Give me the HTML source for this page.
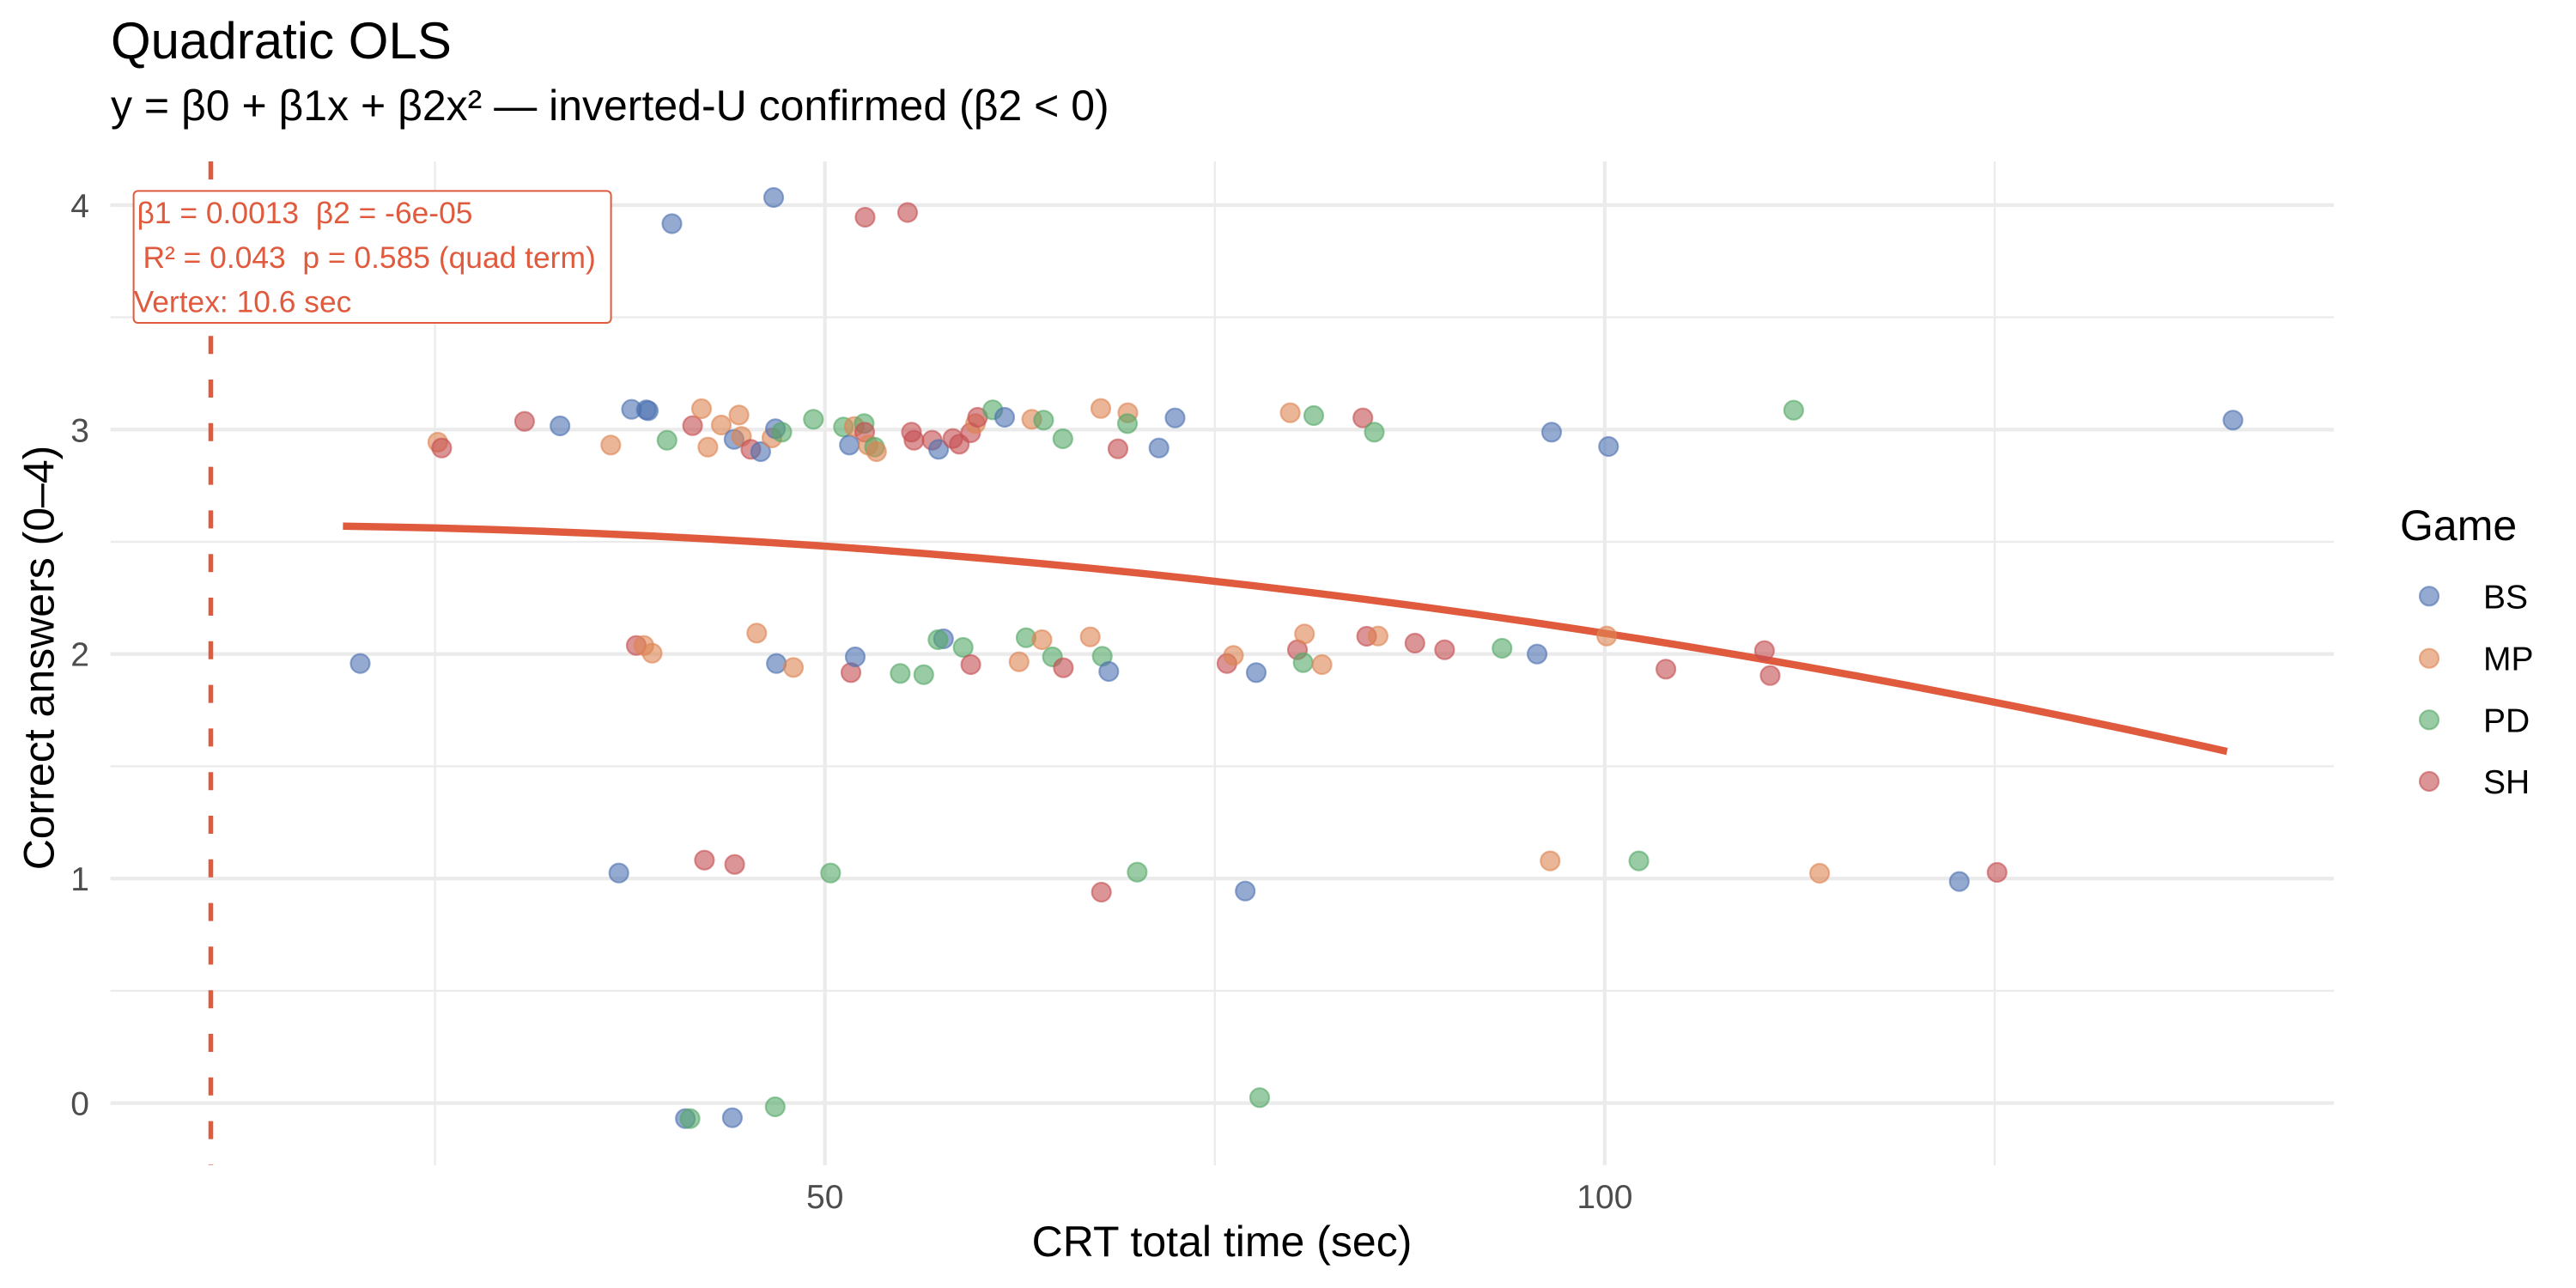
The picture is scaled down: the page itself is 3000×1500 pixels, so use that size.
<!DOCTYPE html>
<html>
<head>
<meta charset="utf-8">
<style>
  html, body { margin: 0; padding: 0; background: #ffffff; }
  svg { display: block; }
  text { font-family: "Liberation Sans", Arial, "DejaVu Sans", sans-serif; }
  .b { fill: #4C72B0; stroke: #4C72B0; }
  .m { fill: #DD8452; stroke: #DD8452; }
  .p { fill: #55A868; stroke: #55A868; }
  .s { fill: #C44E52; stroke: #C44E52; }
  .pt circle { fill-opacity: 0.6; stroke-opacity: 0.6; stroke-width: 2.2; }
  .tick { font-size: 39px; fill: #4D4D4D; }
  .ann { font-size: 35.4px; fill: #E05A3D; white-space: pre; }
</style>
</head>
<body>
<svg width="3000" height="1500" viewBox="0 0 3000 1500" xmlns="http://www.w3.org/2000/svg">
  <rect x="0" y="0" width="3000" height="1500" fill="#ffffff"/>

  <!-- minor gridlines -->
  <g stroke="#EBEBEB" stroke-width="2.3" fill="none">
    <line x1="128.6" y1="1153.9" x2="2718" y2="1153.9"/>
    <line x1="128.6" y1="892.4" x2="2718" y2="892.4"/>
    <line x1="128.6" y1="631" x2="2718" y2="631"/>
    <line x1="128.6" y1="369.5" x2="2718" y2="369.5"/>
    <line x1="506.6" y1="188" x2="506.6" y2="1357"/>
    <line x1="1414.8" y1="188" x2="1414.8" y2="1357"/>
    <line x1="2323" y1="188" x2="2323" y2="1357"/>
  </g>
  <!-- major gridlines -->
  <g stroke="#EBEBEB" stroke-width="4.3" fill="none">
    <line x1="128.6" y1="1284.6" x2="2718" y2="1284.6"/>
    <line x1="128.6" y1="1023.2" x2="2718" y2="1023.2"/>
    <line x1="128.6" y1="761.7" x2="2718" y2="761.7"/>
    <line x1="128.6" y1="500.3" x2="2718" y2="500.3"/>
    <line x1="128.6" y1="238.8" x2="2718" y2="238.8"/>
    <line x1="960.7" y1="188" x2="960.7" y2="1357"/>
    <line x1="1868.9" y1="188" x2="1868.9" y2="1357"/>
  </g>

  <!-- vertex dashed line -->
  <line x1="245.5" y1="188" x2="245.5" y2="1357" stroke="#E05A3D" stroke-width="5.5" stroke-dasharray="21 29.8"/>

  <!-- fitted quadratic curve -->
  <path d="M399.4,612.7 Q1496.5,628.9 2593.6,875.1" fill="none" stroke="#E05A3D" stroke-width="8.5"/>

  <!-- points -->
  <g class="pt">
    <!-- y=4 band -->
    <circle class="b" cx="782.5" cy="260.5" r="11"/>
    <circle class="b" cx="901" cy="230" r="11"/>
    <circle class="s" cx="1007.5" cy="253" r="11"/>
    <circle class="s" cx="1057" cy="247.5" r="11"/>

    <!-- y=3 band -->
    <circle class="m" cx="509.9" cy="515" r="11"/>
    <circle class="s" cx="514.4" cy="521.7" r="11"/>
    <circle class="s" cx="610.9" cy="490.7" r="11"/>
    <circle class="b" cx="652.2" cy="496" r="11"/>
    <circle class="m" cx="711.3" cy="518.3" r="11"/>
    <circle class="b" cx="735.5" cy="476.7" r="11"/>
    <circle class="b" cx="752.7" cy="477.3" r="11"/>
    <circle class="b" cx="755" cy="478.3" r="11"/>
    <circle class="p" cx="776.8" cy="512.7" r="11"/>
    <circle class="s" cx="806.6" cy="495.7" r="11"/>
    <circle class="m" cx="817" cy="476" r="11"/>
    <circle class="m" cx="824.4" cy="520.7" r="11"/>
    <circle class="m" cx="840" cy="495" r="11"/>
    <circle class="b" cx="854.9" cy="511.7" r="11"/>
    <circle class="m" cx="860.6" cy="483.3" r="11"/>
    <circle class="m" cx="863.5" cy="508.3" r="11"/>
    <circle class="s" cx="874.4" cy="523.3" r="11"/>
    <circle class="b" cx="885.9" cy="526" r="11"/>
    <circle class="m" cx="899" cy="510" r="11"/>
    <circle class="b" cx="903.1" cy="499.3" r="11"/>
    <circle class="p" cx="910.5" cy="503.3" r="11"/>
    <circle class="p" cx="947.3" cy="488.3" r="11"/>
    <circle class="p" cx="982.3" cy="497.3" r="11"/>
    <circle class="b" cx="989.2" cy="518.3" r="11"/>
    <circle class="m" cx="994.9" cy="496.7" r="11"/>
    <circle class="p" cx="1006.4" cy="493.3" r="11"/>
    <circle class="s" cx="1007" cy="503.3" r="11"/>
    <circle class="m" cx="1011" cy="518.3" r="11"/>
    <circle class="p" cx="1018.5" cy="520.7" r="11"/>
    <circle class="m" cx="1020.8" cy="526" r="11"/>
    <circle class="s" cx="1061.5" cy="503.3" r="11"/>
    <circle class="s" cx="1064.4" cy="512.7" r="11"/>
    <circle class="s" cx="1085.6" cy="512.7" r="11"/>
    <circle class="b" cx="1093.1" cy="523.3" r="11"/>
    <circle class="s" cx="1109.7" cy="510.7" r="11"/>
    <circle class="s" cx="1117.2" cy="517.3" r="11"/>
    <circle class="s" cx="1130.4" cy="504" r="11"/>
    <circle class="m" cx="1136.1" cy="493.3" r="11"/>
    <circle class="s" cx="1138.5" cy="486" r="11"/>
    <circle class="p" cx="1156.2" cy="477.3" r="11"/>
    <circle class="b" cx="1170" cy="486" r="11"/>
    <circle class="m" cx="1201.6" cy="488.3" r="11"/>
    <circle class="p" cx="1215.4" cy="489.3" r="11"/>
    <circle class="p" cx="1237.8" cy="511" r="11"/>
    <circle class="m" cx="1282" cy="475.7" r="11"/>
    <circle class="s" cx="1302" cy="522.7" r="11"/>
    <circle class="m" cx="1313.5" cy="480.7" r="11"/>
    <circle class="p" cx="1313" cy="493.3" r="11"/>
    <circle class="b" cx="1349.7" cy="521.7" r="11"/>
    <circle class="b" cx="1368.5" cy="486.7" r="11"/>
    <circle class="m" cx="1502.6" cy="480.7" r="11"/>
    <circle class="p" cx="1530" cy="484" r="11"/>
    <circle class="s" cx="1587.2" cy="486.7" r="11"/>
    <circle class="p" cx="1600.5" cy="503.3" r="11"/>
    <circle class="b" cx="1807" cy="503.3" r="11"/>
    <circle class="b" cx="1873.3" cy="520" r="11"/>
    <circle class="p" cx="2088.9" cy="477.7" r="11"/>
    <circle class="b" cx="2600.5" cy="489.3" r="11"/>

    <!-- y=2 band -->
    <circle class="b" cx="419.5" cy="772.7" r="11"/>
    <circle class="s" cx="741" cy="751.7" r="11"/>
    <circle class="m" cx="749.9" cy="751.7" r="11"/>
    <circle class="m" cx="759.5" cy="760.7" r="11"/>
    <circle class="m" cx="881.3" cy="737.3" r="11"/>
    <circle class="b" cx="904.2" cy="772.7" r="11"/>
    <circle class="m" cx="924" cy="777.3" r="11"/>
    <circle class="s" cx="991" cy="783.3" r="11"/>
    <circle class="b" cx="996" cy="765" r="11"/>
    <circle class="p" cx="1048.4" cy="784.3" r="11"/>
    <circle class="p" cx="1075.8" cy="785.7" r="11"/>
    <circle class="b" cx="1098.8" cy="744" r="11"/>
    <circle class="p" cx="1092.4" cy="745" r="11"/>
    <circle class="p" cx="1121.7" cy="754" r="11"/>
    <circle class="s" cx="1130.6" cy="774" r="11"/>
    <circle class="m" cx="1186.8" cy="770.7" r="11"/>
    <circle class="p" cx="1195" cy="742.7" r="11"/>
    <circle class="m" cx="1213.5" cy="745" r="11"/>
    <circle class="p" cx="1225.7" cy="765" r="11"/>
    <circle class="s" cx="1238.4" cy="777.7" r="11"/>
    <circle class="m" cx="1269.7" cy="741.7" r="11"/>
    <circle class="p" cx="1283.7" cy="764.3" r="11"/>
    <circle class="b" cx="1291.3" cy="782" r="11"/>
    <circle class="s" cx="1428.9" cy="772.7" r="11"/>
    <circle class="m" cx="1436.5" cy="763.3" r="11"/>
    <circle class="b" cx="1463" cy="783.3" r="11"/>
    <circle class="s" cx="1511" cy="756.7" r="11"/>
    <circle class="m" cx="1519.2" cy="738.3" r="11"/>
    <circle class="p" cx="1517.7" cy="771.7" r="11"/>
    <circle class="m" cx="1539.6" cy="774" r="11"/>
    <circle class="s" cx="1591.6" cy="741" r="11"/>
    <circle class="m" cx="1604.9" cy="740.7" r="11"/>
    <circle class="s" cx="1647.8" cy="749" r="11"/>
    <circle class="s" cx="1682.4" cy="756.7" r="11"/>
    <circle class="p" cx="1749.3" cy="755" r="11"/>
    <circle class="b" cx="1790.1" cy="761.7" r="11"/>
    <circle class="m" cx="1871.2" cy="740.7" r="11"/>
    <circle class="s" cx="1940.1" cy="779.3" r="11"/>
    <circle class="s" cx="2054.9" cy="757.7" r="11"/>
    <circle class="s" cx="2061.5" cy="786.7" r="11"/>

    <!-- y=1 band -->
    <circle class="b" cx="720.7" cy="1016.7" r="11"/>
    <circle class="s" cx="820.4" cy="1001.7" r="11"/>
    <circle class="s" cx="855.6" cy="1006.7" r="11"/>
    <circle class="p" cx="967.3" cy="1016.7" r="11"/>
    <circle class="s" cx="1282.7" cy="1039" r="11"/>
    <circle class="p" cx="1324.4" cy="1015.7" r="11"/>
    <circle class="b" cx="1450.2" cy="1037.7" r="11"/>
    <circle class="m" cx="1805.3" cy="1002.6" r="11"/>
    <circle class="p" cx="1908.6" cy="1002.6" r="11"/>
    <circle class="m" cx="2119.1" cy="1017" r="11"/>
    <circle class="b" cx="2281.8" cy="1026.6" r="11"/>
    <circle class="s" cx="2325.8" cy="1016" r="11"/>

    <!-- y=0 band -->
    <circle class="b" cx="798.2" cy="1302.7" r="11"/>
    <circle class="p" cx="803.6" cy="1302.7" r="11"/>
    <circle class="b" cx="852.9" cy="1301.7" r="11"/>
    <circle class="p" cx="902.8" cy="1289" r="11"/>
    <circle class="p" cx="1467" cy="1278.3" r="11"/>
  </g>

  <!-- annotation label -->
  <rect x="155.6" y="222.4" width="556" height="153.6" rx="5" ry="5" fill="#ffffff" stroke="#E05A3D" stroke-width="2"/>
  <text class="ann" x="159.5" y="260.2">β1 = 0.0013  β2 = -6e-05</text>
  <text class="ann" x="166.5" y="312.2">R² = 0.043  p = 0.585 (quad term)</text>
  <text class="ann" x="155.6" y="363.3">Vertex: 10.6 sec</text>

  <!-- y tick labels -->
  <text class="tick" x="104" y="1298.6" text-anchor="end">0</text>
  <text class="tick" x="104" y="1037.2" text-anchor="end">1</text>
  <text class="tick" x="104" y="775.7" text-anchor="end">2</text>
  <text class="tick" x="104" y="514.3" text-anchor="end">3</text>
  <text class="tick" x="104" y="252.8" text-anchor="end">4</text>

  <!-- x tick labels -->
  <text class="tick" x="960.7" y="1407" text-anchor="middle">50</text>
  <text class="tick" x="1868.9" y="1407" text-anchor="middle">100</text>

  <!-- axis titles -->
  <text x="1423" y="1463" font-size="50" text-anchor="middle" fill="#000000">CRT total time (sec)</text>
  <text transform="translate(62.5,766) rotate(-90)" font-size="50" text-anchor="middle" fill="#000000">Correct answers (0–4)</text>

  <!-- title / subtitle -->
  <text x="129" y="68" font-size="60" fill="#000000">Quadratic OLS</text>
  <text x="129" y="140" font-size="50" fill="#000000">y = β0 + β1x + β2x² — inverted-U confirmed (β2 &lt; 0)</text>

  <!-- legend -->
  <text x="2795" y="629" font-size="50" fill="#000000">Game</text>
  <g class="pt">
    <circle class="b" cx="2829" cy="694.3" r="11"/>
    <circle class="m" cx="2829" cy="766.7" r="11"/>
    <circle class="p" cx="2829" cy="838.3" r="11"/>
    <circle class="s" cx="2829" cy="910" r="11"/>
  </g>
  <text x="2892" y="708.3" font-size="39" fill="#000000">BS</text>
  <text x="2892" y="780.7" font-size="39" fill="#000000">MP</text>
  <text x="2892" y="852.3" font-size="39" fill="#000000">PD</text>
  <text x="2892" y="924" font-size="39" fill="#000000">SH</text>
</svg>
</body>
</html>
